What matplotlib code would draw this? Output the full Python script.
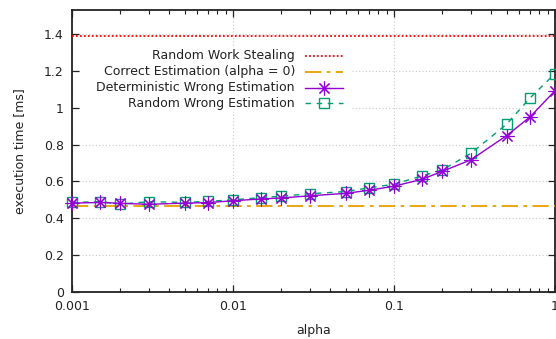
import matplotlib
matplotlib.use("Agg")
import matplotlib.pyplot as plt
from matplotlib.patches import Rectangle
from matplotlib.lines import Line2D
from matplotlib.ticker import LogLocator, NullFormatter, FixedLocator

plt.rcParams['font.family'] = ['DejaVu Sans']
plt.rcParams['font.size'] = 9

alpha = [0.001, 0.0015, 0.002, 0.003, 0.005, 0.007, 0.01, 0.015, 0.02, 0.03,
         0.05, 0.07, 0.1, 0.15, 0.2, 0.3, 0.5, 0.7, 1.0]
deterministic = [0.482, 0.486, 0.481, 0.476, 0.482, 0.485, 0.495, 0.505, 0.510, 0.522,
                 0.535, 0.552, 0.574, 0.612, 0.655, 0.717, 0.848, 0.950, 1.092]
random_wrong = [0.486, 0.490, 0.477, 0.490, 0.486, 0.492, 0.500, 0.512, 0.520, 0.533,
                0.545, 0.565, 0.585, 0.630, 0.663, 0.752, 0.910, 1.053, 1.185]
work_stealing = 1.39
correct = 0.464

yticks = [0, 0.2, 0.4, 0.6, 0.8, 1.0, 1.2, 1.4]
ytick_labels = ['0', '0.2', '0.4', '0.6', '0.8', '1', '1.2', '1.4']
xticks = [0.001, 0.01, 0.1, 1]
xtick_labels = ['0.001', '0.01', '0.1', '1']

RED = '#ff0000'
ORANGE = '#e69f00'
PURPLE = '#9400d3'
GREEN = '#009e73'

STAR = dict(marker=(8, 2, 0), markersize=10, markeredgewidth=0.8)
BOX = dict(marker='s', markersize=7.5, markerfacecolor='none', markeredgewidth=1.0)

fig = plt.figure(figsize=(5.56, 3.39), dpi=100)
ax = fig.add_axes([72 / 556, 1 - 292 / 339, 483 / 556, 282 / 339])

ax.set_xscale('log')
ax.set_xlim(0.001, 1)
ax.set_ylim(0, 1.53)

# grid and ticks, gnuplot look
ax.grid(True, which='major', color='#c8c8c8', linestyle=(0, (1, 2)), linewidth=0.8)
ax.set_axisbelow(True)
ax.xaxis.set_major_locator(FixedLocator(xticks))
ax.set_xticklabels(xtick_labels)
ax.xaxis.set_minor_locator(LogLocator(base=10, subs=range(2, 10)))
ax.xaxis.set_minor_formatter(NullFormatter())
ax.set_yticks(yticks)
ax.set_yticklabels(ytick_labels)
ax.tick_params(which='both', direction='in', top=True, right=True, color='#222222',
               labelcolor='#222222', labelsize=9)
ax.tick_params(which='major', length=5, width=0.9, pad=6)
ax.tick_params(which='minor', length=3, width=0.8)
for sp in ax.spines.values():
    sp.set_linewidth(1.3)
    sp.set_color('#222222')

ax.set_xlabel('alpha', fontsize=9, color='#222222', labelpad=8)
ax.set_ylabel('execution time [ms]', fontsize=9, color='#222222', labelpad=13)

# key box blanks the grid behind it
ax.add_patch(Rectangle((8 / 483, (292 - 112) / 282), 272 / 483, 64 / 282,
                       transform=ax.transAxes, facecolor='white', edgecolor='none', zorder=1.5))

ax.axhline(work_stealing, color=RED, linestyle=(0, (1, 1.2)), linewidth=1.3, zorder=3)
ax.axhline(correct, color=ORANGE, linestyle=(0, (9, 3, 2, 3)), linewidth=1.3, zorder=3)
ax.plot(alpha, random_wrong, color=GREEN, linestyle=(0, (4, 4)), linewidth=1.0,
        zorder=4, clip_on=False, **BOX)
ax.plot(alpha, deterministic, color=PURPLE, linestyle='-', linewidth=1.0,
        zorder=5, clip_on=False, **STAR)

# key: right-aligned text with sample on the right
entries = [
    ('Random Work Stealing', dict(color=RED, linestyle=(0, (1, 1.2)), linewidth=1.3), None),
    ('Correct Estimation (alpha = 0)', dict(color=ORANGE, linestyle=(0, (9, 3, 2, 3)), linewidth=1.3), None),
    ('Deterministic Wrong Estimation', dict(color=PURPLE, linestyle='-', linewidth=1.0), STAR),
    ('Random Wrong Estimation', dict(color=GREEN, linestyle=(0, (4, 4)), linewidth=1.0), BOX),
]
row_y = [56, 72, 87.5, 103]
for (label, style, mk), py in zip(entries, row_y):
    yf = (292 - py) / 282
    ax.text((295 - 72) / 483, yf, label, transform=ax.transAxes, ha='right', va='center',
            fontsize=9, color='#222222', zorder=6)
    x0, x1 = (305 - 72) / 483, (343 - 72) / 483
    ax.add_line(Line2D([x0, x1], [yf, yf], transform=ax.transAxes, zorder=6, **style))
    if mk is not None:
        ax.add_line(Line2D([(x0 + x1) / 2], [yf], transform=ax.transAxes, zorder=6,
                           linestyle='none', color=style['color'], **mk))

fig.savefig('out.png', dpi=100)
